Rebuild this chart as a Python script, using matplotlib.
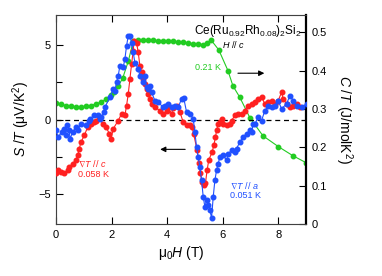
import matplotlib
matplotlib.use("Agg")
import matplotlib.pyplot as plt
import numpy as np

plt.rcParams["font.family"] = ["Liberation Sans", "DejaVu Sans"]
plt.rcParams["mathtext.fontset"] = "custom"
plt.rcParams["mathtext.rm"] = "Liberation Sans"
plt.rcParams["mathtext.it"] = "Liberation Sans:italic"
plt.rcParams["mathtext.default"] = "regular"

# ---- data ----
green_H = [0.0, 0.18, 0.36, 0.54, 0.72, 0.90, 1.08, 1.26, 1.44, 1.62, 1.80, 1.98, 2.10, 2.24,
           2.40, 2.60, 2.78, 2.96, 3.14, 3.32, 3.50, 3.68, 3.86, 4.04, 4.22, 4.40, 4.58, 4.76,
           4.94, 5.12, 5.30, 5.45, 5.58, 5.86, 6.19, 6.37, 6.62, 6.98, 7.45, 8.0, 8.53, 9.0]
green_C = [0.315, 0.312, 0.309, 0.307, 0.306, 0.306, 0.307, 0.309, 0.313, 0.318, 0.326, 0.336,
           0.345, 0.360, 0.380, 0.424, 0.476, 0.479, 0.480, 0.479, 0.479, 0.478, 0.478, 0.477,
           0.476, 0.475, 0.474, 0.472, 0.470, 0.469, 0.468, 0.472, 0.480, 0.454, 0.400, 0.360,
           0.330, 0.277, 0.230, 0.202, 0.178, 0.160]

red_H = [0.0, 0.06, 0.18, 0.30, 0.42, 0.48, 0.60, 0.72, 0.78, 0.84, 0.90, 1.02, 1.14, 1.26,
         1.38, 1.44, 1.56, 1.68, 1.80, 1.92, 1.98, 2.06, 2.24, 2.36, 2.48, 2.54, 2.60, 2.66,
         2.72, 2.78, 2.81, 2.90, 2.96, 3.02, 3.08, 3.14, 3.20, 3.26, 3.32, 3.38, 3.44, 3.56,
         3.74, 3.86, 3.98, 4.04, 4.16, 4.22, 4.34, 4.46, 4.58, 4.70, 4.82, 4.90, 4.96, 5.08,
         5.14, 5.20, 5.26, 5.32, 5.38, 5.44, 5.50, 5.62, 5.68, 5.74, 5.78, 5.84, 5.90, 5.96,
         6.02, 6.14, 6.26, 6.32, 6.44, 6.56, 6.68, 6.80, 6.92, 7.04, 7.16, 7.28, 7.40, 7.52,
         7.64, 7.76, 7.88, 8.00, 8.12, 8.18, 8.30, 8.42, 8.54, 8.66, 8.78]
red_S = [-3.6, -3.4, -3.5, -3.6, -3.4, -3.2, -2.95, -2.7, -2.4, -1.95, -1.5, -1.07, -0.5, -0.3,
         -0.18, -0.07, 0.15, -0.3, -0.5, -0.95, -1.3, -0.62, -0.07, 0.38, 0.27, 0.93, 1.7, 2.7,
         3.7, 4.6, 5.27, 5.15, 4.5, 3.6, 3.15, 2.7, 2.4, 2.05, 1.7, 1.4, 1.05, 0.82,
         0.6, 0.38, 0.55, 0.82, 0.38, 0.8, 0.93, 0.5, -0.18, -0.4, -0.4, -0.5, -1.0, -2.07,
         -2.9, -3.6, -4.2, -4.4, -4.27, -3.4, -2.7, -2.2, -1.73, -1.2, -0.73, -0.3, -0.17, 0.05,
         -0.3, -0.4, -0.3, -0.07, 0.27, 0.38, 0.38, 0.6, 0.93, 1.05, 1.2, 1.35, 1.49, 1.05,
         1.15, 1.27, 1.05, 1.27, 1.82, 1.38, 1.05, 0.82, 0.93, 1.05, 0.82]

blue_H = [0.0, 0.08, 0.20, 0.30, 0.36, 0.38, 0.48, 0.50, 0.60, 0.72, 0.78, 0.90, 1.08, 1.20,
          1.22, 1.38, 1.50, 1.58, 1.62, 1.74, 1.76, 1.94, 2.06, 2.12, 2.18, 2.24, 2.30, 2.42,
          2.48, 2.54, 2.60, 2.66, 2.72, 2.78, 2.84, 2.96, 3.02, 3.14, 3.20, 3.26, 3.32, 3.38,
          3.44, 3.56, 3.68, 3.86, 3.92, 4.04, 4.16, 4.28, 4.40, 4.52, 4.60, 4.70, 4.82, 4.94,
          5.00, 5.06, 5.12, 5.18, 5.24, 5.30, 5.36, 5.42, 5.48, 5.54, 5.60, 5.66, 5.72, 5.78,
          5.84, 5.90, 6.02, 6.14, 6.20, 6.32, 6.44, 6.50, 6.62, 6.74, 6.86, 6.98, 7.04, 7.10,
          7.16, 7.28, 7.40, 7.52, 7.64, 7.76, 7.88, 8.00, 8.12, 8.30, 8.42, 8.54, 8.66, 8.84, 9.02]
blue_S = [-0.73, -1.18, -0.85, -0.62, -1.07, -0.4, -0.73, -1.3, -0.85, -0.5, -0.73, -0.3, -0.4,
          -0.07, 0.05, 0.27, 0.27, 0.05, 0.15, 0.5, 0.82, 1.49, 2.05, 1.93, 2.5, 2.93, 3.6, 3.5,
          4.05, 4.93, 5.6, 5.6, 5.15, 4.5, 3.8, 3.4, 2.93, 2.5, 2.93, 2.15, 2.05, 2.27,
          1.82, 1.27, 1.15, 0.82, 0.93, 1.05, 0.82, 0.93, 0.82, 1.38, 1.42, 0.5, 0.38, 0.05,
          -0.85, -1.85, -2.5, -3.2, -4.07, -5.18, -5.85, -5.4, -5.73, -6.07, -6.6, -5.18, -4.07, -3.4,
          -2.95, -2.5, -2.4, -2.73, -2.3, -2.07, -2.18, -1.95, -1.5, -1.18, -0.95, -0.73, -0.85, -0.3,
          -0.3, 0.15, -0.07, 0.6, 0.93, 0.82, 0.93, 1.27, 0.71, 1.05, 1.6, 1.27, 0.93, 0.82, 1.05]

xticks = [0, 2, 4, 6, 8]
s_ticks = [-5, 0, 5]
c_ticks = [0, 0.1, 0.2, 0.3, 0.4, 0.5]
c_ticklabels = ["0", "0.1", "0.2", "0.3", "0.4", "0.5"]

RED = "#ff2020"
BLUE = "#2050ff"
GREEN = "#22cc22"

fig = plt.figure(figsize=(3.82, 2.76), dpi=100)
ax = fig.add_axes([56/382, 52/276, 250/382, 209/276])
ax2 = ax.twinx()

ax.set_xlim(0, 9)
ax.set_ylim(-7, 7)
ax2.set_ylim(0, 0.545)

ax.axhline(0, color="black", ls=(0, (4, 3)), lw=0.9, zorder=1)

ax2.plot(green_H, green_C, "-o", color=GREEN, ms=3.2, lw=0.8, zorder=2)
ax.plot(red_H, red_S, "-o", color=RED, ms=3.3, lw=0.8, zorder=3)
ax.plot(blue_H, blue_S, "-o", color=BLUE, ms=3.3, lw=0.8, zorder=4)
ax.set_zorder(ax2.get_zorder() + 1)
ax.patch.set_visible(False)

ax.set_xticks(xticks)
ax.set_yticks(s_ticks)
ax.set_yticks([-2.5, 2.5], minor=True)
ax2.set_yticks(c_ticks)
ax2.set_yticklabels(c_ticklabels)
ax.tick_params(axis="x", direction="in", top=True, length=5, width=0.8, labelsize=8, pad=4)
ax.tick_params(axis="y", which="major", direction="in", length=5, width=0.8, labelsize=8)
ax.tick_params(axis="y", which="minor", direction="in", length=4, width=0.8)
ax2.tick_params(axis="y", direction="in", length=5, width=0.8, labelsize=8, pad=4)

for sp in ["left", "top", "bottom"]:
    ax.spines[sp].set_linewidth(0.7)
    ax.spines[sp].set_color("#444444")
ax2.spines["right"].set_linewidth(1.6)
ax.spines["right"].set_visible(False)

ax.set_xlabel(r"$\mu_0\mathit{H}$ (T)", fontsize=10, labelpad=3)
ax.set_ylabel(r"$\mathit{S}$ /$\mathit{T}$ ($\mu$V/K$^2$)", fontsize=10, labelpad=5)
ax2.set_ylabel(r"$\mathit{C}$ /$\mathit{T}$ (J/molK$^2$)", fontsize=10, rotation=270, labelpad=20)

ax.text(8.85, 5.95, r"Ce(Ru$_{0.92}$Rh$_{0.08}$)$_2$Si$_2$", fontsize=8.5, ha="right", va="center")
ax.text(6.4, 5.0, r"$\mathit{H}$ // $\mathit{c}$", fontsize=6.5, ha="center", va="center")
ax.text(5.0, 3.45, "0.21 K", fontsize=6.5, color=GREEN, ha="left", va="center")
ax.text(0.78, -2.95, r"$\nabla\mathit{T}$ // $\mathit{c}$", fontsize=6.5, color=RED, ha="left", va="center")
ax.text(0.78, -3.7, "0.058 K", fontsize=6.5, color=RED, ha="left", va="center")
ax.text(6.25, -4.45, r"$\nabla\mathit{T}$ // $\mathit{a}$", fontsize=6.5, color=BLUE, ha="left", va="center")
ax.text(6.25, -5.1, "0.051 K", fontsize=6.5, color=BLUE, ha="left", va="center")

ax.annotate("", xy=(3.65, -2.0), xytext=(4.75, -2.0),
            arrowprops=dict(arrowstyle="-|>", color="black", lw=0.8, mutation_scale=8))
ax.annotate("", xy=(7.6, 3.1), xytext=(6.45, 3.1),
            arrowprops=dict(arrowstyle="-|>", color="black", lw=0.8, mutation_scale=8))

fig.savefig("out.png", dpi=100)
